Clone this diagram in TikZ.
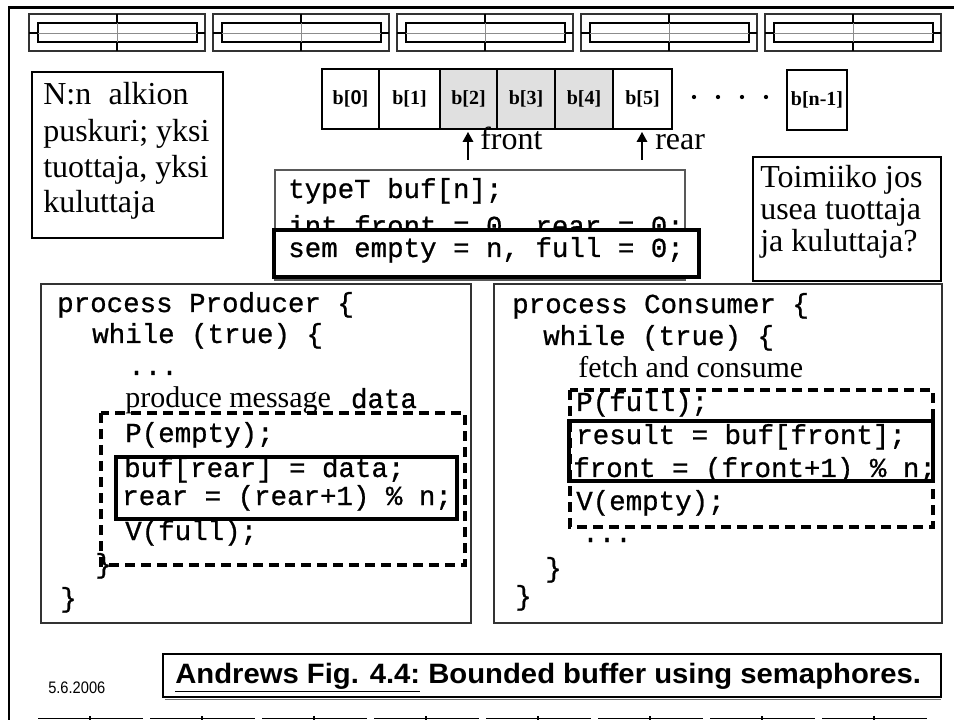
\documentclass[tikz,border=0pt]{standalone}
\usepackage{fontspec}
\setmainfont{Liberation Serif}
\newfontfamily\codefont[FakeBold=0.8]{Liberation Mono}
\newfontfamily\sansfont{Liberation Sans}
\usetikzlibrary{arrows.meta}
\begin{document}
\begin{tikzpicture}[x=0.75pt,y=-0.75pt,
  big/.style={font=\fontsize{24}{28}\selectfont, inner sep=0pt, anchor=base west},
  code/.style={font=\codefont\fontsize{20.6}{24}\selectfont, inner sep=0pt, anchor=base west},
  codeserif/.style={font=\fontsize{22.5}{26}\selectfont, inner sep=0pt, anchor=base west},
  cell/.style={font=\bfseries\fontsize{15}{17}\selectfont, inner sep=0pt},
  hl/.style={draw=black, line width=2.5pt},
  dsh/.style={draw=black, line width=2.5pt, dash pattern=on 7.5pt off 4.5pt},
  codebox/.style={draw=black!80, line width=1pt},
  ptr/.style={-{Triangle[width=8pt,length=7.5pt]}, line width=1pt},
]
\useasboundingbox (0,0) rectangle (954,720);
% slide frame
\draw[line width=2pt] (9,720) -- (9,7.5) -- (954,7.5);
% top decoration
\foreach \s in {29,213,397,581,765}{
  \draw[black!80, line width=0.8pt] (\s,14) rectangle ++(176,37);
  \draw[line width=0.8pt] (\s+9,23) rectangle (\s+168,42);
  \draw[black!45, line width=0.7pt] (\s+9,33) -- (\s+168,33);
  \draw[black!45, line width=0.7pt] (\s+88,23) -- (\s+88,42);
  \draw[line width=0.8pt] (\s,33) -- (\s+9,33) (\s+168,33) -- (\s+176,33);
  \draw[line width=0.8pt] (\s+88,14) -- (\s+88,23) (\s+88,42) -- (\s+88,51);
}
% bottom decoration
\foreach \i in {0,...,7}{
  \draw[line width=1.2pt] (38+112*\i,718.5) -- (143+112*\i,718.5);
  \draw[line width=0.8pt] (90+112*\i,716) -- (90+112*\i,720);
}
% buffer array
\fill[black!12] (440,69) rectangle (613,129);
\draw[line width=1.5pt] (322,69) rectangle (672,129);
\foreach \xx in {379,440,497,555,613}{ \draw[line width=1.5pt] (\xx,69) -- (\xx,129); }
\node[cell] (b0) at (350.5,99) {b[{\sansfont\bfseries 0}]};
\node[cell] (b1) at (409.5,99) {b[1]};
\node[cell] (b2) at (468.5,99) {b[2]};
\node[cell] (b3) at (526,99) {b[3]};
\node[cell] (b4) at (584,99) {b[4]};
\node[cell] (b5) at (642.5,99) {b[5]};
\foreach \xx in {694,718,742,766}{ \fill (\xx,97) circle (1.6pt); }
\draw[line width=1.5pt] (787,70) rectangle (847,130);
\node[cell] (bn) at (817,100) {b[n-1]};
% pointers
\coordinate (fa) at (468,160); \coordinate (fb) at (468,132);
\coordinate (ra) at (642,160); \coordinate (rb) at (642,132);
\draw[ptr] (fa) -- (fb);
\draw[ptr] (ra) -- (rb);
\node[big] (front) at (480,150) {front};
\node[big] (rear) at (655,150) {rear};
% N:n box
\draw[line width=2.2pt] (32,72) rectangle (223,238);
\node[big] (n1) at (43,105) {N:n\hspace{13pt}alkion};
\node[big] (n2) at (43,142) {puskuri; yksi};
\node[big] (n3) at (43,178) {tuottaja, yksi};
\node[big] (n4) at (43,213) {kuluttaja};
% Toimiiko box
\draw[line width=1pt] (753,157) rectangle (941,281);
\node[big] (t1) at (760,188) {Toimiiko jos};
\node[big] (t2) at (760,220) {usea tuottaja};
\node[big] (t3) at (760,252) {ja kuluttaja?};
% declarations
\draw[black!65, line width=0.8pt] (275,170) rectangle (685,280);
\node[code] (d1) at (288,198) {typeT buf[n];};
\begin{scope}
  \clip (276,171) rectangle (684,229);
  \node[code] (d2) at (288,235) {int front = 0, rear = 0;};
\end{scope}
\filldraw[fill=white, hl] (274,230) rectangle (699,277);
\node[code] (d3) at (288,257) {sem empty = n, full = 0;};
% Producer
\draw[codebox] (41,284) rectangle (471,623);
\node[code] (p1) at (57,312) {process Producer \{};
\node[code] (p2) at (92,343) {while (true) \{};
\node[code] (p3) at (128,375) {...};
\node[codeserif] (p4) at (125,408) {produce message\hspace{15pt}{\codefont\fontsize{20.6}{24}\selectfont data}};
\node[code] (p5) at (125,442) {P(empty);};
\node[code] (p6) at (124,477) {buf[rear] = data;};
\node[code] (p7) at (122,505) {rear = (rear+1) \% n;};
\node[code] (p8) at (125,540) {V(full);};
\node[code] (p9) at (95,573) {\}};
\node[code] (p10) at (60,607) {\}};
\draw[dsh] (101,413) rectangle (465,565);
\draw[hl] (116,457) rectangle (457,519);
% Consumer
\draw[codebox] (494,284) rectangle (942,623);
\node[code] (c1) at (512,313) {process Consumer \{};
\node[code] (c2) at (543,345) {while (true) \{};
\node[codeserif] (c3) at (578,378) {fetch and consume};
\node[code] (c4) at (576,411) {P(full);};
\node[code] (c5) at (576,444) {result = buf[front];};
\node[code] (c6) at (573,477) {front = (front+1) \% n;};
\node[code] (c7) at (576,510) {V(empty);};
\node[code] (c8) at (582,542) {...};
\node[code] (c9) at (545,577) {\}};
\node[code] (c10) at (515,605) {\}};
\draw[dsh] (570,390) rectangle (933,527);
\draw[hl] (569,421) rectangle (933,481);
% caption
\draw[black!55, line width=1pt] (165,699.5) -- (941,699.5);
\draw[line width=1.5pt] (163,654) rectangle (941,697);
\node[inner sep=0pt, anchor=base west, font=\sansfont\bfseries\fontsize{21}{25}\selectfont] (cap) at (175,683)
  {\scalebox{1.045}[1]{\underline{Andrews Fig. 4.4:} Bounded buffer using semaphores.}};
\node[inner sep=0pt, anchor=base west, font=\sansfont\fontsize{12.5}{14}\selectfont] (date) at (48,693) {\scalebox{0.88}[1]{5.6.2006}};
\end{tikzpicture}
\end{document}
